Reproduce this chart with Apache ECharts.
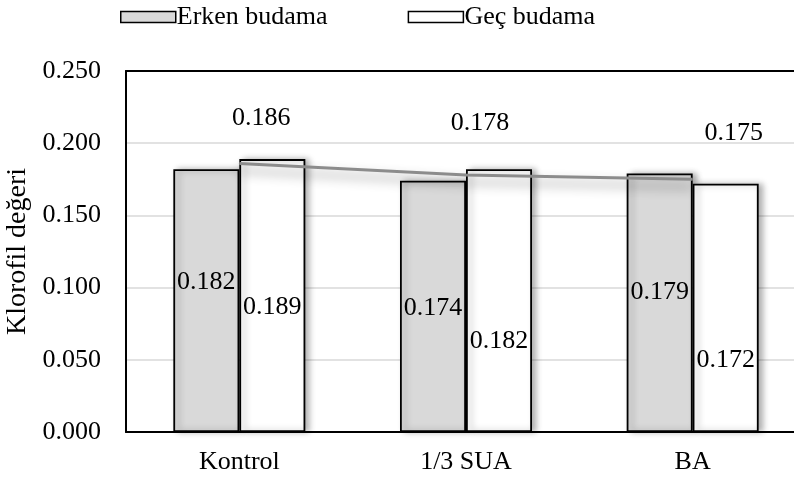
<!DOCTYPE html>
<html>
<head>
<meta charset="utf-8">
<script src="https://cdn.jsdelivr.net/npm/echarts@6/dist/echarts.min.js"></script>
<style>
  html, body { margin: 0; padding: 0; background: #fff; }
  #chart { width: 794px; height: 481px; }
</style>
</head>
<body>
<div id="chart"></div>
<script>
// Klorofil değerleri: budama zamanı x uygulama
const categories = ['Kontrol', '1/3 SUA', 'BA'];
const erkenBudama = [0.182, 0.174, 0.179];
const gecBudama = [0.189, 0.182, 0.172];
const ortalama = [0.186, 0.178, 0.175];
const yTicks = [0, 0.05, 0.10, 0.15, 0.20, 0.25];

// label nudges (px) for the data labels
const erkenLabelShift = [[0, -18], [0, 2], [0, -11]];
const gecLabelShift = [[0, 12], [0, 41], [0, 52]];
const ortLabelShift = [[22, -45], [14, -52], [41, -46]];

const FONT = "'Times New Roman', 'Liberation Serif', serif";
const FS = 26;

const chart = echarts.init(document.getElementById('chart'));

const barShadow = {
  shadowColor: 'rgba(0,0,0,0.3)',
  shadowBlur: 6,
  shadowOffsetX: 4,
  shadowOffsetY: 0
};

chart.setOption({
  animation: false,
  backgroundColor: '#fff',
  textStyle: { fontFamily: FONT, color: '#000' },
  legend: {
    left: 115,
    top: -1,
    icon: 'rect',
    itemWidth: 55,
    itemHeight: 11,
    itemGap: 80,
    textStyle: { fontFamily: FONT, fontSize: FS, color: '#000', padding: [0, 0, 0, -4] },
    itemStyle: { shadowBlur: 0, shadowOffsetX: 0, borderWidth: 1.5 },
    data: ['Erken budama', 'Geç budama']
  },
  grid: { left: 126, right: -12, top: 71, bottom: 49, outerBoundsMode: 'none', containLabel: false },
  xAxis: [
    {
      type: 'category',
      data: categories,
      axisLine: { lineStyle: { color: '#000', width: 2 } },
      axisTick: { show: false },
      axisLabel: { fontFamily: FONT, fontSize: FS, color: '#000', margin: 17 }
    },
    {
      type: 'category',
      position: 'top',
      data: categories,
      axisLine: { lineStyle: { color: '#000', width: 2 } },
      axisTick: { show: false },
      axisLabel: { show: false },
      splitLine: { show: false }
    }
  ],
  yAxis: {
    type: 'value',
    min: yTicks[0],
    max: yTicks[yTicks.length - 1],
    interval: yTicks[1] - yTicks[0],
    name: 'Klorofil değeri',
    nameLocation: 'middle',
    nameRotate: 90,
    nameGap: 80,
    nameTextStyle: { fontFamily: FONT, fontSize: 28, color: '#000' },
    axisLine: { show: true, lineStyle: { color: '#000', width: 2 } },
    axisTick: { show: false },
    axisLabel: {
      fontFamily: FONT, fontSize: FS, color: '#000', margin: 25,
      formatter: v => v.toFixed(3)
    },
    splitLine: { lineStyle: { color: '#d9d9d9', width: 1.5 } }
  },
  series: [
    {
      name: 'Erken budama',
      type: 'bar',
      barWidth: 66,
      barGap: '0%',
      data: erkenBudama.map((v, i) => ({
        value: v,
        label: { offset: erkenLabelShift[i] }
      })),
      itemStyle: Object.assign({ color: '#d9d9d9', borderColor: '#000', borderWidth: 1.8 }, barShadow),
      label: {
        show: true, position: 'inside', fontFamily: FONT, fontSize: FS, color: '#000',
        formatter: p => p.value.toFixed(3)
      }
    },
    {
      name: 'Geç budama',
      type: 'bar',
      barWidth: 66,
      barGap: '0%',
      data: gecBudama.map((v, i) => ({
        value: v,
        label: { offset: gecLabelShift[i] }
      })),
      itemStyle: Object.assign({ color: '#ffffff', borderColor: '#000', borderWidth: 1.8 }, barShadow),
      label: {
        show: true, position: 'inside', fontFamily: FONT, fontSize: FS, color: '#000',
        formatter: p => p.value.toFixed(3)
      }
    },
    {
      name: 'Ortalama',
      type: 'line',
      symbol: 'circle',
      symbolSize: 1,
      showSymbol: true,
      z: 5,
      data: ortalama.map((v, i) => ({
        value: v,
        label: { offset: ortLabelShift[i] }
      })),
      lineStyle: {
        color: '#8c8c8c', width: 3,
        shadowColor: 'rgba(0,0,0,0.45)', shadowBlur: 12, shadowOffsetY: 7
      },
      itemStyle: { color: '#8c8c8c' },
      label: {
        show: true, position: 'inside', fontFamily: FONT, fontSize: FS, color: '#000',
        formatter: p => p.value.toFixed(3)
      }
    }
  ]
});
</script>
</body>
</html>
